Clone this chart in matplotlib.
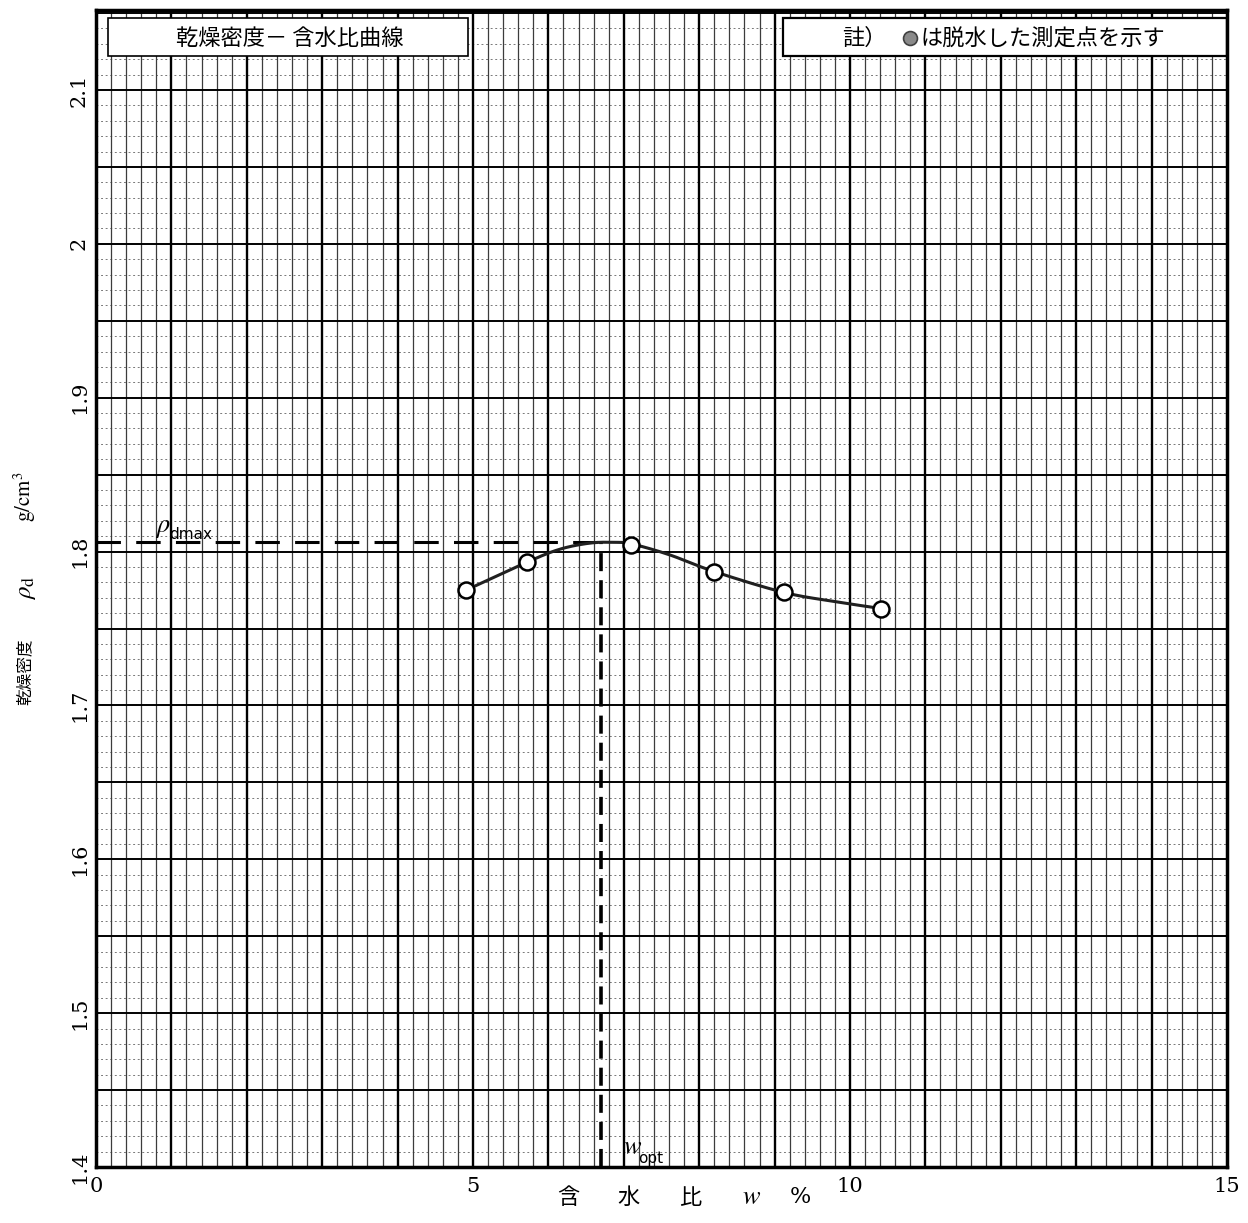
import numpy as np
import matplotlib
matplotlib.use("Agg")
import matplotlib.pyplot as plt
from matplotlib.patches import Rectangle
from matplotlib.ticker import FixedLocator, FuncFormatter

plt.rcParams['font.family'] = ['Noto Sans CJK JP', 'DejaVu Sans']
plt.rcParams['mathtext.fontset'] = 'stix'

# compaction test: water content (%) vs dry density (g/cm3)
water = [4.91, 5.71, 7.10, 8.20, 9.12, 10.41]
density = [1.775, 1.793, 1.804, 1.787, 1.7735, 1.763]

# hand-drawn fit curve, read along its path
curve_w = [4.91, 5.71, 6.15, 6.55, 6.85, 7.10, 7.60, 8.20, 9.12, 9.80, 10.41]
curve_rho = [1.775, 1.793, 1.8015, 1.8055, 1.806, 1.805, 1.798, 1.787, 1.7735, 1.7675, 1.763]

w_opt = 6.70
rho_dmax = 1.806

x_ticks = [0, 5, 10, 15]
y_ticks = [1.4, 1.5, 1.6, 1.7, 1.8, 1.9, 2.0, 2.1]

title_left = "乾燥密度－ 含水比曲線"
note_head = "註）"
note_tail = "は脱水した測定点を示す"
xlabel_parts = ["含", "水", "比", "$w$", "%"]


def catmull_rom(xs, ys, n=20):
    """Smooth path through the given points."""
    p = np.column_stack([xs, ys])
    p = np.vstack([p[0], p, p[-1]])
    out = []
    t = np.linspace(0, 1, n, endpoint=False)[:, None]
    for i in range(1, len(p) - 2):
        p0, p1, p2, p3 = p[i - 1], p[i], p[i + 1], p[i + 2]
        seg = 0.5 * ((2 * p1) + (-p0 + p2) * t + (2 * p0 - 5 * p1 + 4 * p2 - p3) * t ** 2
                     + (-p0 + 3 * p1 - 3 * p2 + p3) * t ** 3)
        out.append(seg)
    out.append(p[-2][None, :])
    out = np.vstack(out)
    return out[:, 0], out[:, 1]


W, H = 1248, 1223
fig = plt.figure(figsize=(W / 100, H / 100), dpi=100)
ax = fig.add_axes([96 / W, 1 - 1167 / H, (1227 - 96) / W, (1167 - 10) / H])
ax.set_xlim(0, 15)
ax.set_ylim(1.4, 2.152)

# graph-paper grid: 0.2 % and 0.01 g/cm3 cells, heavier every 1 % and 0.05 g/cm3
for i in range(1, 75):
    v = i * 0.2
    if i % 5 == 0:
        ax.axvline(v, color='black', lw=1.7, zorder=0.5)
    else:
        ax.axvline(v, color='#3c3c3c', lw=0.9, zorder=0.4)
for j in range(1, 76):
    v = 1.4 + j * 0.01
    if j % 5 == 0:
        ax.axhline(v, color='black', lw=1.4, zorder=0.5)
    else:
        ax.axhline(v, color='#555555', lw=0.55, dashes=(2.5, 3.5), zorder=0.3)

ax.xaxis.set_major_locator(FixedLocator(x_ticks))
ax.yaxis.set_major_locator(FixedLocator(y_ticks))
ax.xaxis.set_major_formatter(FuncFormatter(lambda v, p: f"{v:g}"))
ax.yaxis.set_major_formatter(FuncFormatter(lambda v, p: f"{round(v, 2):g}"))
ax.tick_params(which='both', length=0)
ax.tick_params(axis='x', pad=7, labelsize=15)
ax.tick_params(axis='y', pad=5, labelsize=15, labelrotation=90)
for lab in ax.get_xticklabels() + ax.get_yticklabels():
    lab.set_family(['DejaVu Serif'])
for lab in ax.get_yticklabels():
    lab.set_va('center')
for s in ax.spines.values():
    s.set_linewidth(2.5)
    s.set_zorder(6)

# header boxes
ax.add_patch(Rectangle((0.16, 2.122), 4.77, 0.025, facecolor='white',
                       edgecolor='black', lw=1.2, zorder=1))
ax.add_patch(Rectangle((9.11, 2.122), 5.89, 0.025, facecolor='white',
                       edgecolor='black', lw=1.6, zorder=1))
ax.text(2.57, 2.1335, title_left, ha='center', va='center', fontsize=16, zorder=3)
ax.text(9.90, 2.1335, note_head, ha='left', va='center', fontsize=16, zorder=3)
ax.plot([10.80], [2.1335], 'o', ms=10, mfc='#8a8a8a', mec='#404040', mew=1.2, zorder=3)
ax.text(10.93, 2.1335, note_tail, ha='left', va='center', fontsize=16, zorder=3)

# optimum markers
ax.plot([0, w_opt], [rho_dmax, rho_dmax], color='black', lw=2.2,
        dashes=(8, 5), zorder=3)
ax.plot([w_opt, w_opt], [1.4, rho_dmax], color='black', lw=2.6,
        dashes=(5, 2.5), zorder=3)
ax.text(0.78, rho_dmax + 0.0012, r'$\rho$', fontsize=19,
        ha='left', va='bottom', zorder=3)
ax.annotate("dmax", xy=(0.78, rho_dmax), xytext=(10, 0.5), textcoords='offset points',
            fontsize=11, family=['DejaVu Sans'], ha='left', va='bottom', zorder=3)
ax.text(6.99, 1.4045, r'$w$', fontsize=19, ha='left', va='bottom', zorder=3)
ax.annotate("opt", xy=(6.99, 1.4), xytext=(11, 0.5), textcoords='offset points',
            fontsize=11, family=['DejaVu Sans'], ha='left', va='bottom', zorder=3)

# fitted curve and measured points
cx, cy = catmull_rom(curve_w, curve_rho)
ax.plot(cx, cy, color='#202020', lw=2.2, zorder=4)
ax.plot(water, density, 'o', ms=11.5, mfc='white', mec='black', mew=1.8, zorder=5)

# axis titles
fig.text(25 / W, 1 - 672 / H, "乾燥密度", rotation=90, ha='center', va='center',
         fontsize=12)
fig.text(25 / W, 1 - 588 / H, r'$\rho_{\rm d}$', rotation=90, ha='center',
         va='center', fontsize=18)
fig.text(25 / W, 1 - 497 / H, r'${\rm g/cm}^{3}$', rotation=90, ha='center',
         va='center', fontsize=15)

for lab, px in zip(xlabel_parts, [568, 628, 690, 752, 800]):
    t = fig.text(px / W, 1 - 1197 / H, lab, ha='center', va='center', fontsize=16)
    if lab == "%":
        t.set_family(['DejaVu Serif'])
    if lab == "$w$":
        t.set_fontsize(19)

fig.savefig("out.png", dpi=100)
